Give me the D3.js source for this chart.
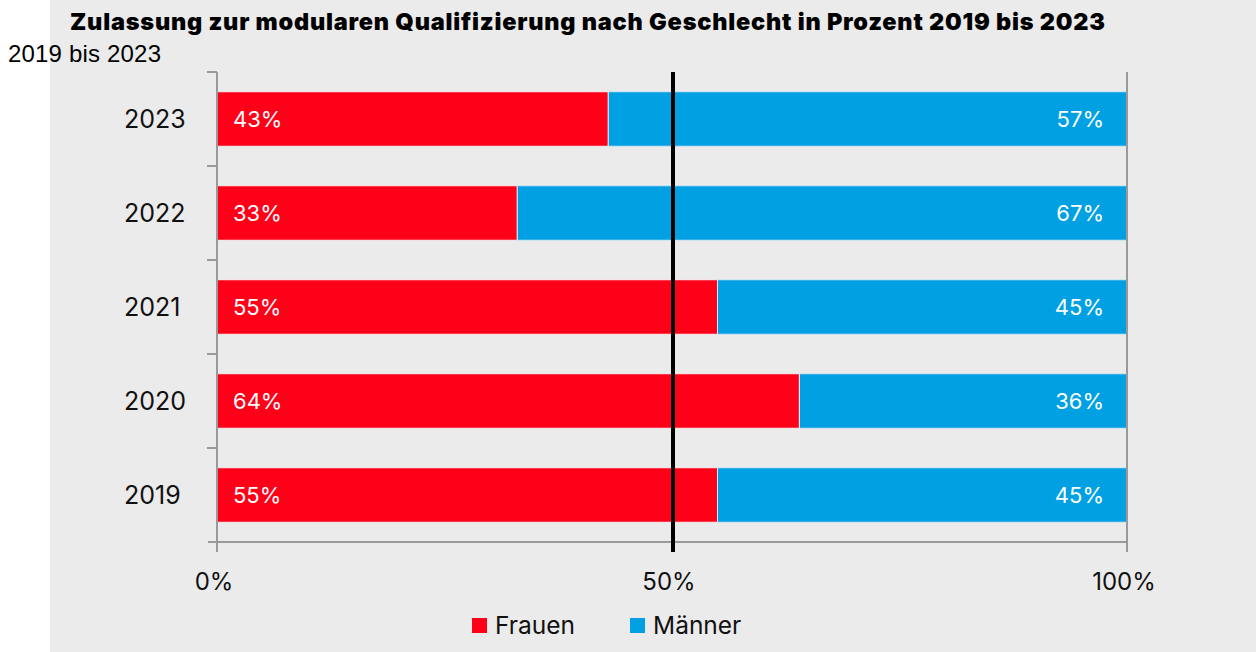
<!DOCTYPE html>
<html>
<head>
<meta charset="utf-8">
<script src="https://cdn.jsdelivr.net/npm/d3@7"></script>
<style>
  body { margin: 0; background: #fff; }
  svg { display: block; }
</style>
</head>
<body>
<div id="chart"></div>
<script>
const years = ['2023', '2022', '2021', '2020', '2019'];
const frauen = [43, 33, 55, 64, 55];
const maenner = [57, 67, 45, 36, 45];
const xTicks = [0, 50, 100];
const seriesNames = ['Frauen', 'Männer'];
const colors = ['#ff0019', '#00a0e3'];

const W = 1256, H = 652;
const margin = {left: 217, right: 129, top: 72, bottom: 110};

const svg = d3.select('#chart').append('svg')
    .attr('width', W)
    .attr('height', H);

svg.append('rect')
    .attr('x', 50).attr('y', 0)
    .attr('width', W - 50).attr('height', H)
    .attr('fill', '#ebebeb');

svg.append('text')
    .attr('x', 70).attr('y', 30)
    .attr('font-family', 'Inter, sans-serif')
    .attr('font-weight', 900)
    .attr('font-size', 23.5)
    .attr('textLength', 1035)
    .attr('lengthAdjust', 'spacing')
    .text('Zulassung zur modularen Qualifizierung nach Geschlecht in Prozent 2019 bis 2023');

svg.append('text')
    .attr('x', 8).attr('y', 62)
    .attr('font-family', 'Liberation Sans, Arial, sans-serif')
    .attr('font-size', 24)
    .attr('textLength', 153)
    .attr('lengthAdjust', 'spacing')
    .text('2019 bis 2023');

let xScale = d3.scaleLinear().domain([0, 100]).range([margin.left, W - margin.right]);
let yScale = d3.scaleBand().domain(years).range([margin.top, H - margin.bottom]).paddingInner(0.42).paddingOuter(0.21);

let rows = years.map((y, i) => ({year: y, f: frauen[i], m: maenner[i]}));

let g = svg.append('g');

// bars
let row = g.selectAll('.row').data(rows).enter().append('g').attr('class', 'row');
row.append('rect')
    .attr('x', xScale(0))
    .attr('y', d => yScale(d.year))
    .attr('width', d => xScale(d.f) - xScale(0))
    .attr('height', yScale.bandwidth())
    .attr('fill', colors[0])
    .attr('stroke', '#f4f4f4').attr('stroke-width', 1);
row.append('rect')
    .attr('x', d => xScale(d.f))
    .attr('y', d => yScale(d.year))
    .attr('width', d => xScale(100) - xScale(d.f))
    .attr('height', yScale.bandwidth())
    .attr('fill', colors[1])
    .attr('stroke', '#d8e8f0').attr('stroke-width', 1);

row.append('text')
    .attr('x', xScale(0) + 16)
    .attr('y', d => yScale(d.year) + yScale.bandwidth() / 2 + 8)
    .attr('fill', '#fff')
    .attr('font-family', 'Inter, sans-serif')
    .attr('font-size', 22)
    .text(d => d.f + '%');
row.append('text')
    .attr('x', xScale(100) - 23)
    .attr('y', d => yScale(d.year) + yScale.bandwidth() / 2 + 8)
    .attr('text-anchor', 'end')
    .attr('fill', '#fff')
    .attr('font-family', 'Inter, sans-serif')
    .attr('font-size', 22)
    .text(d => d.m + '%');

// axes
const axisColor = '#999';
const step = yScale.step();
const bounds = d3.range(years.length + 1).map(i => margin.top + i * step);
const plotBottom = bounds[bounds.length - 1];

g.append('line')
    .attr('x1', xScale(0)).attr('x2', xScale(0))
    .attr('y1', margin.top).attr('y2', plotBottom + 10)
    .attr('stroke', axisColor).attr('stroke-width', 2);
g.append('line')
    .attr('x1', xScale(100)).attr('x2', xScale(100))
    .attr('y1', margin.top).attr('y2', plotBottom + 10)
    .attr('stroke', axisColor).attr('stroke-width', 2);
g.append('line')
    .attr('x1', xScale(0) - 9).attr('x2', xScale(100))
    .attr('y1', plotBottom).attr('y2', plotBottom)
    .attr('stroke', axisColor).attr('stroke-width', 2);
g.selectAll('.ytick').data(bounds.slice(0, -1)).enter().append('line')
    .attr('x1', xScale(0) - 10).attr('x2', xScale(0))
    .attr('y1', d => d).attr('y2', d => d)
    .attr('stroke', axisColor).attr('stroke-width', 2);

g.selectAll('.ylab').data(years).enter().append('text')
    .attr('x', 124)
    .attr('y', d => yScale(d) + yScale.bandwidth() / 2 + 9)
    .attr('font-family', 'Inter, sans-serif')
    .attr('font-size', 25)
    .attr('fill', '#111')
    .text(d => d);

g.selectAll('.xlab').data(xTicks).enter().append('text')
    .attr('x', d => xScale(d) - 3)
    .attr('y', plotBottom + 48)
    .attr('text-anchor', 'middle')
    .attr('font-family', 'Inter, sans-serif')
    .attr('font-size', 24)
    .attr('fill', '#111')
    .text(d => d + '%');

// 50% reference line
g.append('line')
    .attr('x1', xScale(50) + 1).attr('x2', xScale(50) + 1)
    .attr('y1', margin.top).attr('y2', plotBottom + 10)
    .attr('stroke', '#000').attr('stroke-width', 4);

// legend
const legendX = [472, 630];
let leg = svg.selectAll('.leg').data(seriesNames).enter().append('g');
leg.append('rect')
    .attr('x', (d, i) => legendX[i]).attr('y', 618)
    .attr('width', 15).attr('height', 15)
    .attr('fill', (d, i) => colors[i]);
leg.append('text')
    .attr('x', (d, i) => legendX[i] + 23).attr('y', 634)
    .attr('font-family', 'Inter, sans-serif')
    .attr('font-size', 24.5)
    .attr('fill', '#111')
    .text(d => d);
</script>
</body>
</html>
